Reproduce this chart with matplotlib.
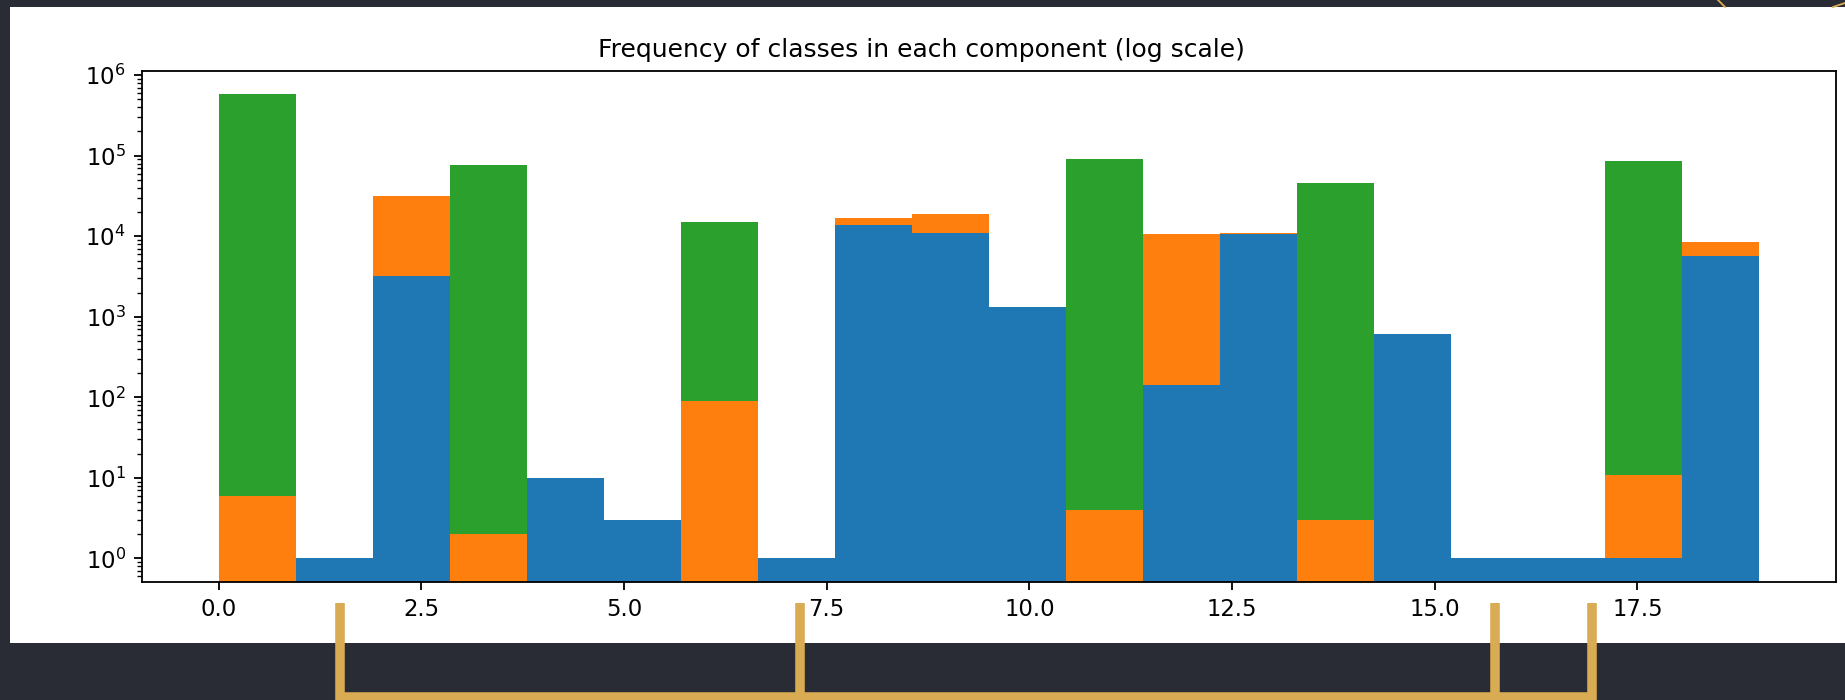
import numpy as np
import matplotlib.pyplot as plt
from matplotlib.patches import Rectangle
from matplotlib.lines import Line2D

# class ids 0..19, one histogram bin each
classes = np.arange(20)

# counts per class for each component
comp0_counts = [0, 1, 3210, 0, 10, 3, 0, 1, 13650, 11090, 1325, 0, 142, 10770, 0, 608, 1, 1, 1, 5690]
comp1_counts = [6, 0, 28300, 2, 0, 0, 89, 0, 3350, 7600, 0, 4, 10420, 300, 3, 0, 0, 0, 10, 2880]
comp2_counts = [580000, 0, 0, 76400, 0, 0, 15100, 0, 0, 0, 0, 89900, 0, 0, 46200, 0, 0, 0, 85700, 0]

W, H = 1845, 700
DPI = 164
BG = '#292c35'
GOLD = '#d9ab52'


def px(x, y):
    """pixel (from top-left) -> figure fraction"""
    return x / W, 1 - y / H


fig = plt.figure(figsize=(W / DPI, H / DPI), dpi=DPI, facecolor=BG)

# white slide area behind the chart
x0, y0 = px(10, 643)
fig.add_artist(Rectangle((x0, y0), 1 - x0, (643 - 7) / H, transform=fig.transFigure,
                         facecolor='white', edgecolor='none', zorder=0))

ax_l, ax_b = px(141.7, 581.7)
ax_r, ax_t = px(1836, 71)
ax = fig.add_axes([ax_l, ax_b, ax_r - ax_l, ax_t - ax_b])

ax.hist([classes, classes, classes], bins=20,
        weights=[comp0_counts, comp1_counts, comp2_counts],
        stacked=True, log=True)

ax.set_title('Frequency of classes in each component (log scale)', x=0.4605, fontsize=11)

# gold bracket drawn on the slide under the chart
for xp in [340, 800, 1495, 1592]:
    xa, ya = px(xp, 603)
    _, yb = px(xp, 700)
    fig.add_artist(Line2D([xa, xa], [ya, yb], transform=fig.transFigure,
                          color=GOLD, linewidth=4.2, solid_capstyle='butt', zorder=5))
xa, yh = px(336, 696.5)
xb, _ = px(1596, 696.5)
fig.add_artist(Line2D([xa, xb], [yh, yh], transform=fig.transFigure,
                      color=GOLD, linewidth=4.2, solid_capstyle='butt', zorder=5))

# thin gold arcs peeking in at the top right
fig.add_artist(Line2D([1718 / W, 1725 / W], [1, 1 - 7 / H], transform=fig.transFigure,
                      color=GOLD, linewidth=0.8, zorder=5))
fig.add_artist(Line2D([1833 / W, 1845 / W], [1 - 7 / H, 1 - 3 / H], transform=fig.transFigure,
                      color=GOLD, linewidth=0.8, zorder=5))

fig.savefig('out.png', dpi=DPI, facecolor=BG)
